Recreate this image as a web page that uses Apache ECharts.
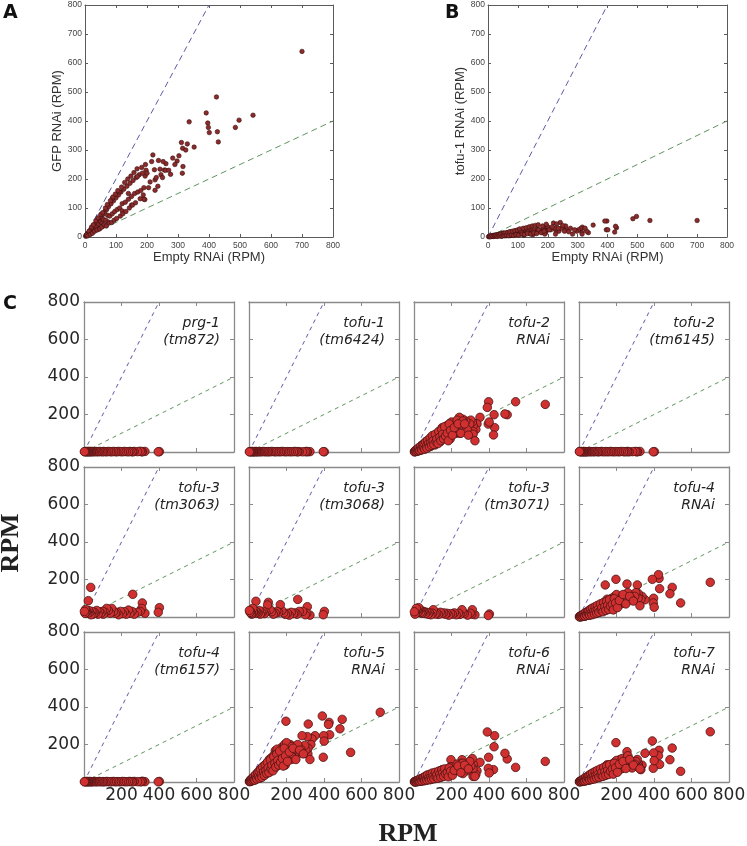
<!DOCTYPE html>
<html><head><meta charset="utf-8">
<script src="https://cdn.jsdelivr.net/npm/echarts@6/dist/echarts.min.js"></script>
<style>html,body{margin:0;padding:0;background:#fff}#c{width:747px;height:846px}</style>
</head><body><div id="c"></div>
<script>
// ---------- DATA ----------
// RNAi experiment: x = Empty RNAi (RPM), shared by panels A, B and the RNAi panels of C
const rnaiX = [700,542,497,485,430,427,424,398,396,401,391,352,336,330,316,314,311,315,303,297,283,276,261,256,252,242,237,226,226,224,219,197,194,193,140,
  2,4,6,8,10,12,14,16,18,20,22,25,28,30,33,36,38,40,43,46,50,52,55,58,60,64,67,70,73,76,80,84,88,92,96,100,104,108,112,116,120,125,130,135,140,145,150,155,160,165,170,175,180,185,190,110,88,169,190,60,120,150,45,75,200,210,230,245,260,
  5,9,13,17,21,24,27,31,35,39,42,47,51,54,57,62,66,69,72,78,82,86,90,94,98,102,106,114,118,122,128,132,138,143,148,153,158,163,168,178,183,188,195,205,215,235,250,270,290,325];
const gfpRNAi = [640,420,403,378,328,363,483,378,393,360,428,310,397,321,243,220,326,306,280,262,272,216,253,231,260,234,264,197,161,232,283,230,210,129,150,
  3,6,4,11,9,16,12,22,15,28,20,34,25,42,32,50,35,58,45,62,52,70,48,78,60,88,58,95,75,105,72,115,80,125,88,135,95,145,100,155,115,165,120,175,130,185,140,195,150,205,155,215,160,220,170,156,133,208,130,40,90,110,28,52,220,190,205,215,230,
  8,4,20,9,34,13,42,20,56,24,66,28,78,34,84,42,100,38,112,48,125,50,138,58,148,64,160,72,172,80,188,88,200,100,210,110,222,118,235,132,240,145,250,170,260,175,205,230,250,300];
const tofu1RNAi = [57,57,71,63,32,37,17,55,25,25,55,41,15,20,34,16,30,10,25,20,10,30,28,20,35,50,20,25,10,30,48,30,20,15,20,
  1,2,1,3,2,4,3,5,2,6,4,7,3,8,5,9,4,10,6,12,8,14,5,11,7,15,9,12,6,18,10,14,8,20,12,16,9,22,14,18,10,24,16,20,12,26,18,22,14,28,20,24,16,30,22,20,12,25,10,4,6,8,3,5,35,25,45,30,38,
  3,1,4,2,5,3,6,2,8,4,10,3,12,5,14,6,15,4,18,7,20,5,22,8,24,6,28,10,30,8,32,12,35,10,38,14,40,12,42,15,38,20,44,25,35,30,40,18,25,30];
const tofu2RNAi = [254,268,199,203,130,199,91,268,149,160,238,185,150,120,140,110,160,95,170,150,120,165,175,140,155,185,130,145,100,160,155,130,120,70,90,
  1,4,2,7,3,10,5,12,8,6,15,9,22,14,10,28,18,12,32,20,38,16,30,45,22,50,28,40,58,35,48,65,30,60,42,75,55,85,38,70,95,62,80,105,55,90,118,72,100,125,85,140,110,95,150,60,35,120,140,20,80,130,30,55,160,95,170,100,165,
  2,9,4,14,6,22,10,8,30,18,12,40,25,45,15,55,30,20,62,45,28,75,50,35,88,60,40,95,55,70,45,110,80,60,120,95,70,135,85,100,60,150,115,90,130,150,100,150,90,60];
const tofu4RNAi = [185,75,158,124,151,206,226,100,75,52,201,92,110,95,125,105,171,100,130,110,90,95,120,176,110,100,85,80,70,95,105,201,90,60,171,
  1,3,2,5,2,7,4,9,6,3,10,6,15,9,5,20,12,8,24,14,28,10,22,34,16,38,20,30,42,25,35,48,20,45,30,55,40,60,26,50,70,45,58,78,38,65,85,52,72,92,60,100,80,68,105,44,25,90,110,14,58,95,22,40,120,75,110,88,130,
  1,6,2,10,4,16,8,5,24,14,9,30,18,35,10,42,22,12,48,30,16,55,34,20,62,40,25,70,38,50,28,78,55,35,85,62,40,92,58,68,38,98,75,50,88,120,70,110,85,60];
const tofu5RNAi = [372,158,334,284,252,318,307,247,132,218,352,247,230,200,309,150,242,180,170,195,247,175,150,180,160,190,175,140,120,150,200,324,150,90,167,
  2,6,3,10,5,14,8,18,12,9,22,14,30,20,15,38,26,18,45,30,52,24,42,60,32,70,40,55,80,48,66,90,45,85,60,105,78,120,55,98,130,88,112,145,78,125,160,100,140,170,115,185,150,130,195,85,50,165,200,28,110,175,42,75,210,160,190,175,200,
  3,10,5,18,8,26,12,10,38,22,16,50,30,58,20,68,38,25,80,55,35,92,62,45,105,75,50,118,70,90,60,135,100,80,150,115,90,165,105,125,85,180,140,110,160,180,120,170,150,120];
const tofu6RNAi = [110,78,123,153,247,188,66,132,73,48,267,105,60,40,95,70,125,30,85,110,60,80,45,119,100,90,70,85,60,75,95,119,80,50,60,
  1,2,1,4,2,5,3,6,4,2,7,4,10,6,4,13,8,5,15,9,18,7,14,22,10,25,13,19,28,16,22,32,13,30,20,36,26,42,18,34,48,30,38,52,25,44,58,35,48,62,40,68,55,45,72,30,16,60,75,8,38,65,14,26,80,55,95,70,100,
  1,5,2,8,3,12,6,4,18,10,6,22,14,26,8,32,16,10,38,22,12,42,26,15,48,30,18,52,28,40,20,58,42,25,64,48,30,70,44,52,28,75,58,36,62,85,50,90,70,30];
const tofu7RNAi = [268,57,181,119,94,169,140,155,73,114,219,153,90,66,100,80,120,85,110,95,75,100,130,162,90,115,105,80,70,95,120,210,85,60,80,
  1,3,2,5,3,7,4,9,6,3,11,6,15,9,6,19,12,8,23,14,27,10,21,32,15,36,20,28,40,24,33,46,20,43,30,52,38,60,26,48,66,42,55,74,37,62,82,50,70,88,56,95,76,64,100,42,24,85,105,12,55,92,20,38,115,90,125,105,140,
  2,6,3,11,5,16,8,6,24,14,9,30,18,36,12,42,22,14,48,30,16,56,34,22,62,40,26,70,38,52,30,78,56,36,86,62,40,92,58,70,42,100,76,52,95,110,72,120,90,70];

// Mutant experiment: x = control (RPM), shared by the mutant panels of C
const mutantX = [402,396,325,311,308,300,286,268,260,256,245,237,225,215,205,195,185,175,167,158,148,140,130,121,112,103,99,90,82,75,68,60,54,48,42,37,36,30,25,23,20,15,12,8,5,2];
const prg1_tm872 = [2,1,3,2,1,4,2,3,1,2,3,1,2,3,1,2,3,1,2,3,1,2,3,1,2,3,1,2,3,1,2,3,1,2,3,1,2,3,1,2,3,1,2,3,1,2];
const tofu1_tm6424 = [1,2,2,1,3,2,1,2,2,1,3,2,1,2,2,1,2,3,1,2,2,1,2,3,1,2,2,1,2,3,1,2,2,1,2,3,1,2,2,1,2,3,1,2,2,1];
const tofu2_tm6145 = [2,1,3,2,1,3,2,1,3,2,1,2,3,1,2,2,1,2,3,1,2,2,1,3,2,1,2,3,1,2,2,1,3,2,1,2,2,1,3,2,1,2,2,1,3,2];
const tofu3_tm3063 = [50,25,20,75,46,30,25,15,121,30,20,37,15,28,18,30,12,25,20,30,46,20,35,46,25,15,30,20,28,15,35,20,25,15,30,12,158,25,35,87,20,30,25,40,20,30];
const tofu3_tm3068 = [30,12,10,55,20,12,30,30,94,15,22,18,25,10,20,14,22,35,66,25,30,20,15,28,40,78,64,25,18,30,22,15,35,20,25,84,30,20,28,25,46,15,20,30,25,35];
const tofu3_tm3071 = [16,8,12,39,15,20,10,18,25,39,14,20,12,22,15,18,10,20,15,22,18,25,14,20,16,39,20,12,22,15,25,18,28,30,20,35,25,40,50,30,25,35,46,20,15,28];
const tofu4_tm6157 = [3,1,2,4,2,1,2,3,2,1,3,2,1,2,3,1,2,2,1,3,2,1,2,3,1,2,2,1,3,2,1,2,3,1,2,2,1,3,2,1,2,3,1,2,2,1];

// Reference lines y = 2x and y = x/2
const guideSteep = [[0,0],[400,800]];
const guideShallow = [[0,0],[800,400]];

// Tick labels
const abTickLabels = [0,100,200,300,400,500,600,700,800];
const cTickLabels = [200,400,600,800];

// Panel C contents (row major)
const panelsC = [
  {t:['prg-1','(tm872)'], x:mutantX, y:prg1_tm872},
  {t:['tofu-1','(tm6424)'], x:mutantX, y:tofu1_tm6424},
  {t:['tofu-2','RNAi'], x:rnaiX, y:tofu2RNAi},
  {t:['tofu-2','(tm6145)'], x:mutantX, y:tofu2_tm6145},
  {t:['tofu-3','(tm3063)'], x:mutantX, y:tofu3_tm3063},
  {t:['tofu-3','(tm3068)'], x:mutantX, y:tofu3_tm3068},
  {t:['tofu-3','(tm3071)'], x:mutantX, y:tofu3_tm3071},
  {t:['tofu-4','RNAi'], x:rnaiX, y:tofu4RNAi},
  {t:['tofu-4','(tm6157)'], x:mutantX, y:tofu4_tm6157},
  {t:['tofu-5','RNAi'], x:rnaiX, y:tofu5RNAi},
  {t:['tofu-6','RNAi'], x:rnaiX, y:tofu6RNAi},
  {t:['tofu-7','RNAi'], x:rnaiX, y:tofu7RNAi}
];

// ---------- BUILD ----------
const grids=[], xAxes=[], yAxes=[], series=[], graphics=[];

function addPanel(rect, xs, ys, o){
  const gi = grids.length;
  grids.push({left:rect[0], top:rect[1], width:rect[2], height:rect[3], outerBoundsMode:'none', containLabel:false});
  const line = {show:true, onZero:false, lineStyle:{color:o.frame, width:o.frameW}};
  const tick = {show:true, inside:true, length:o.tickLen, lineStyle:{color:o.frame, width:1}};
  const base = {gridIndex:gi, type:'value', min:0, max:800, interval:o.interval, splitLine:{show:false}, axisLine:line, axisTick:tick};
  const xi = xAxes.length, yi = yAxes.length;
  xAxes.push(Object.assign({}, base, {position:'bottom',
    axisLabel:{show:o.showX, fontSize:o.labelSize, color:o.labelColor, fontFamily:o.labelFont, margin:o.xMargin,
      showMinLabel:true, showMaxLabel:true, formatter:v=>o.ticks.includes(v)?String(v):''},
    name:o.xName||'', nameLocation:'middle', nameGap:o.xNameGap||0,
    nameTextStyle:{fontSize:13, color:'#333', fontFamily:'Liberation Sans'}}));
  xAxes.push(Object.assign({}, base, {position:'top', axisLabel:{show:false}}));
  yAxes.push(Object.assign({}, base, {position:'left',
    axisLabel:{show:o.showY, fontSize:o.labelSize, color:o.labelColor, fontFamily:o.labelFont, margin:o.yMargin,
      showMinLabel:true, showMaxLabel:true, formatter:v=>o.ticks.includes(v)?String(v):''},
    name:o.yName||'', nameLocation:'middle', nameGap:o.yNameGap||0,
    nameTextStyle:{fontSize:13, color:'#333', fontFamily:'Liberation Sans'}}));
  yAxes.push(Object.assign({}, base, {position:'right', axisLabel:{show:false}}));
  series.push({type:'line', xAxisIndex:xi, yAxisIndex:yi, data:guideSteep, symbol:'none', silent:true, z:1,
    lineStyle:{color:'#5a5aa6', width:1, type:o.dash}});
  series.push({type:'line', xAxisIndex:xi, yAxisIndex:yi, data:guideShallow, symbol:'none', silent:true, z:1,
    lineStyle:{color:'#5f935f', width:1, type:o.dash}});
  series.push({type:'scatter', xAxisIndex:xi, yAxisIndex:yi, z:3, clip:true,
    data:xs.map((x,i)=>[x, ys[i]]), symbolSize:o.sym,
    itemStyle:{color:o.fill, borderColor:o.border, borderWidth:o.bw, opacity:1}});
}

const abOpts = {interval:100, frame:'#5a5a5a', frameW:1, tickLen:3, showX:true, showY:true,
  labelSize:8.5, labelColor:'#444', labelFont:'Liberation Sans', xMargin:4, yMargin:3,
  ticks:abTickLabels, dash:[6,4], sym:4.5, fill:'#8c2b2b', border:'#3b0e0e', bw:0.6, xNameGap:12};

addPanel([85,5,248,232], rnaiX, gfpRNAi, Object.assign({}, abOpts, {xName:'Empty RNAi (RPM)', yName:'GFP RNAi (RPM)', yNameGap:17}));
addPanel([488,5,239,232], rnaiX, tofu1RNAi, Object.assign({}, abOpts, {xName:'Empty RNAi (RPM)', yName:'tofu-1 RNAi (RPM)', yNameGap:13}));

const cLeft=[84,249,414,579], cTop=[302,467,632], cSize=150;
panelsC.forEach((p,i)=>{
  const r=Math.floor(i/4), c=i%4;
  addPanel([cLeft[c], cTop[r], cSize, cSize], p.x, p.y, {interval:200, frame:'#8a8a8a', frameW:1.3, tickLen:4,
    showX:r===2, showY:c===0, labelSize:17, labelColor:'#262626', labelFont:'DejaVu Sans', xMargin:5, yMargin:4,
    ticks:cTickLabels, dash:[4,4], sym:8.5, fill:'#d03030', border:'#4a1414', bw:0.8});
  graphics.push({type:'text', x:cLeft[c]+136, y:cTop[r]+21, style:{text:p.t[0], font:'italic 14px "DejaVu Sans"', fill:'#222', align:'right', verticalAlign:'middle'}});
  graphics.push({type:'text', x:cLeft[c]+136, y:cTop[r]+38, style:{text:p.t[1], font:'italic 14px "DejaVu Sans"', fill:'#222', align:'right', verticalAlign:'middle'}});
});

graphics.push({type:'text', x:3, y:4, style:{text:'A', font:'bold 19px "DejaVu Sans"', fill:'#111'}});
graphics.push({type:'text', x:445, y:4, style:{text:'B', font:'bold 19px "DejaVu Sans"', fill:'#111'}});
graphics.push({type:'text', x:3, y:295, style:{text:'C', font:'bold 19px "DejaVu Sans"', fill:'#111'}});
graphics.push({type:'text', x:11, y:543, rotation:Math.PI/2, style:{text:'RPM', font:'bold 26px "Liberation Serif"', fill:'#222', align:'center', verticalAlign:'middle'}});
graphics.push({type:'text', x:408, y:834, style:{text:'RPM', font:'bold 26px "Liberation Serif"', fill:'#222', align:'center', verticalAlign:'middle'}});

const chart = echarts.init(document.getElementById('c'), null, {renderer:'canvas'});
chart.setOption({animation:false, backgroundColor:'#fff', grid:grids, xAxis:xAxes, yAxis:yAxes, series:series, graphic:graphics});
</script></body></html>
